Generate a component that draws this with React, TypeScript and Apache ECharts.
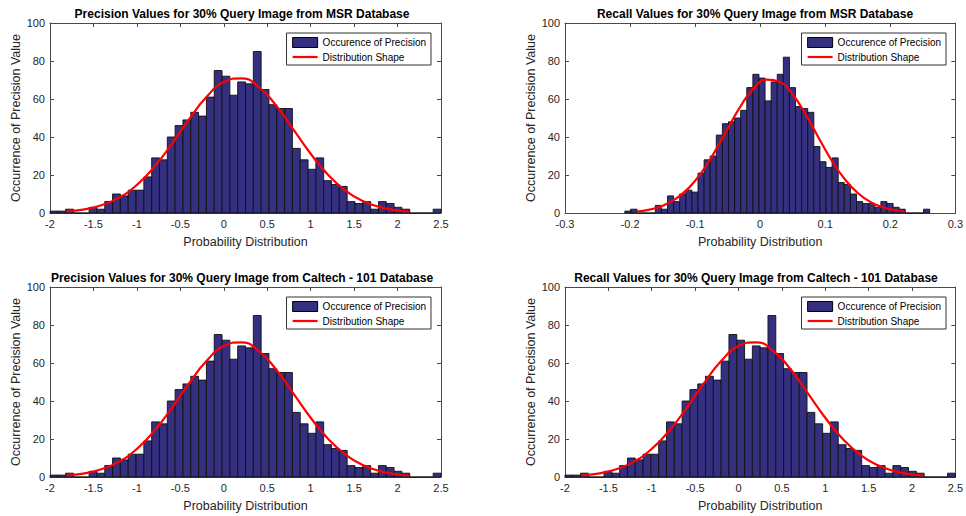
import React, { useEffect, useRef } from "react";
import * as echarts from "echarts";

// ---------- data ----------
const titles = [
  "Precision Values for 30% Query Image from MSR Database",
  "Recall Values for 30% Query Image from MSR Database",
  "Precision Values for 30% Query Image from Caltech - 101 Database",
  "Recall Values for 30% Query Image from Caltech - 101 Database",
];
const seriesNames = ["Occurence of Precision", "Distribution Shape"];
const xAxisName = "Probability Distribution";
const yAxisName = "Occurrence of Precision Value";

// histogram of the precision values (50 bins from -2 to 2.5)
const precBinStart = -2;
const precBinWidth = 0.09;
const precCounts = [
  1, 1, 2, 0, 0, 3, 2, 6, 10, 9, 12, 12, 19, 29, 28, 40, 46, 49, 53, 51,
  61, 75, 72, 62, 69, 68, 85, 65, 57, 55, 55, 34, 28, 23, 29, 17, 15, 14, 6, 5,
  6, 2, 6, 5, 3, 2, 0, 0, 0, 2,
];
// fitted distribution shape
const precCurveX = [-1.81, -1.6, -1.4, -1.2, -1.0, -0.8, -0.6, -0.4, -0.2, 0, 0.2, 0.4, 0.6, 0.8, 1.0, 1.2, 1.4, 1.6, 1.8, 2.0, 2.13];
const precCurveY = [0.8, 1.9, 4.2, 8.2, 14.8, 24.3, 36.2, 49.3, 61.0, 68.9, 70.9, 66.4, 56.7, 44.0, 31.2, 20.1, 11.8, 6.3, 3.1, 1.4, 0.8];

// histogram of the recall values (50 bins from -0.208 to 0.2605)
const recBinStart = -0.208;
const recBinWidth = 0.00937;
const recCounts = [
  1, 2, 0, 0, 0, 4, 2, 9, 6, 10, 12, 11, 21, 28, 30, 41, 47, 48, 50, 54,
  66, 73, 71, 59, 69, 73, 82, 66, 56, 55, 53, 35, 27, 24, 29, 16, 15, 10, 6, 5,
  5, 3, 6, 5, 3, 2, 0, 0, 0, 2,
];
const recCurveX = [-0.19, -0.17, -0.15, -0.13, -0.11, -0.09, -0.07, -0.05, -0.03, -0.01, 0.01, 0.03, 0.05, 0.07, 0.09, 0.11, 0.13, 0.15, 0.17, 0.19, 0.21, 0.222];
const recCurveY = [0.8, 1.8, 3.8, 7.4, 13.1, 21.4, 32.2, 44.4, 56.3, 65.6, 70.2, 69.0, 62.4, 51.8, 39.5, 27.6, 17.8, 10.5, 5.7, 2.9, 1.3, 0.8];

const precXTicks = { min: -2, max: 2.5, interval: 0.5 };
const recXTicks = { min: -0.3, max: 0.3, interval: 0.1 };
const yTicks = { min: 0, max: 100, interval: 20 };

// ---------- styling ----------
const FONT = "Liberation Sans, Arial, Helvetica, sans-serif";
const BAR = "#352f80";
const AX = "#4a4a4a";
const TXT = "#262626";

const panels = [
  { counts: precCounts, start: precBinStart, width: precBinWidth, cx: precCurveX, cy: precCurveY, ticks: precXTicks },
  { counts: recCounts, start: recBinStart, width: recBinWidth, cx: recCurveX, cy: recCurveY, ticks: recXTicks },
  { counts: precCounts, start: precBinStart, width: precBinWidth, cx: precCurveX, cy: precCurveY, ticks: precXTicks },
  { counts: precCounts, start: precBinStart, width: precBinWidth, cx: precCurveX, cy: precCurveY, ticks: precXTicks },
];

const gridPos = [
  { left: 50, top: 23 },
  { left: 565, top: 23 },
  { left: 50, top: 287 },
  { left: 565, top: 287 },
];
const GW = 391;
const GH = 190;
const titleCenters = [242, 755, 242, 756];

function fmt(v: number) {
  const r = Math.round(v * 10) / 10;
  return String(r === 0 ? 0 : r);
}

function buildOption() {
  const grid: any[] = [];
  const xAxis: any[] = [];
  const yAxis: any[] = [];
  const series: any[] = [];
  const title: any[] = [];
  const legend: any[] = [];

  panels.forEach((p, i) => {
    const g = gridPos[i];
    grid.push({ left: g.left, top: g.top, width: GW, height: GH, containLabel: false });

    const tickCommon = { show: true, inside: true, length: 4, lineStyle: { color: AX, width: 1 } };
    const lineCommon = { show: true, onZero: false, lineStyle: { color: AX, width: 1 } };

    xAxis.push({
      type: "value",
      gridIndex: i,
      position: "bottom",
      min: p.ticks.min,
      max: p.ticks.max,
      interval: p.ticks.interval,
      axisLine: lineCommon,
      axisTick: tickCommon,
      splitLine: { show: false },
      axisLabel: { color: TXT, fontSize: 11, margin: 5, fontFamily: FONT, formatter: fmt },
      name: xAxisName,
      nameLocation: "middle",
      nameGap: 22,
      nameTextStyle: { color: TXT, fontSize: 12.5, fontFamily: FONT },
    });
    xAxis.push({
      type: "value",
      gridIndex: i,
      position: "top",
      min: p.ticks.min,
      max: p.ticks.max,
      interval: p.ticks.interval,
      axisLine: lineCommon,
      axisTick: tickCommon,
      splitLine: { show: false },
      axisLabel: { show: false },
    });
    yAxis.push({
      type: "value",
      gridIndex: i,
      position: "left",
      min: yTicks.min,
      max: yTicks.max,
      interval: yTicks.interval,
      axisLine: lineCommon,
      axisTick: tickCommon,
      splitLine: { show: false },
      axisLabel: { color: TXT, fontSize: 11, margin: 5, fontFamily: FONT },
      name: yAxisName,
      nameLocation: "middle",
      nameGap: 27,
      nameTextStyle: { color: TXT, fontSize: 12.5, fontFamily: FONT },
    });
    yAxis.push({
      type: "value",
      gridIndex: i,
      position: "right",
      min: yTicks.min,
      max: yTicks.max,
      interval: yTicks.interval,
      axisLine: lineCommon,
      axisTick: tickCommon,
      splitLine: { show: false },
      axisLabel: { show: false },
    });

    const histData = p.counts.map((c, k) => [p.start + k * p.width, p.start + (k + 1) * p.width, c]);
    series.push({
      type: "custom",
      name: seriesNames[0],
      xAxisIndex: i * 2,
      yAxisIndex: i * 2,
      data: histData,
      encode: { x: [0, 1], y: 2 },
      itemStyle: { color: BAR, borderColor: "#000", borderWidth: 1 },
      renderItem: (params: any, api: any) => {
        const p0 = api.coord([api.value(0), 0]);
        const p1 = api.coord([api.value(1), api.value(2)]);
        return {
          type: "rect",
          shape: { x: p0[0], y: p1[1], width: p1[0] - p0[0], height: p0[1] - p1[1] },
          style: { fill: BAR, stroke: "#111", lineWidth: 0.9 },
        };
      },
      z: 2,
    });
    series.push({
      type: "line",
      name: seriesNames[1],
      xAxisIndex: i * 2,
      yAxisIndex: i * 2,
      data: p.cx.map((x, k) => [x, p.cy[k]]),
      smooth: true,
      symbol: "none",
      lineStyle: { color: "#ff0000", width: 2.2 },
      itemStyle: { color: "#ff0000" },
      z: 3,
    });

    title.push({
      text: titles[i],
      left: titleCenters[i],
      top: g.top - 15,
      textAlign: "center",
      padding: 0,
      textStyle: { fontSize: 12, fontWeight: "bold", color: "#000", fontFamily: FONT },
    });

    legend.push({
      orient: "vertical",
      right: 966 - (g.left + GW - 10),
      top: g.top + 10,
      itemWidth: 25,
      itemHeight: 10,
      itemGap: 4,
      padding: [4, 5, 3, 5],
      backgroundColor: "#fff",
      borderColor: "#333",
      borderWidth: 1,
      borderRadius: 0,
      selectedMode: false,
      textStyle: { fontSize: 10, color: "#000", fontFamily: FONT },
      data: [
        { name: seriesNames[0], icon: "rect", itemStyle: { color: BAR, borderColor: "#000", borderWidth: 1 } },
        {
          name: seriesNames[1],
          itemStyle: { color: "rgba(0,0,0,0)", borderWidth: 0, opacity: 0 },
          lineStyle: { color: "#ff0000", width: 2.2 },
        },
      ],
      z: 10,
    });
  });

  return {
    animation: false,
    backgroundColor: "#fff",
    textStyle: { fontFamily: FONT },
    title,
    legend,
    grid,
    xAxis,
    yAxis,
    series,
  };
}

export default function App() {
  const ref = useRef<HTMLDivElement>(null);
  useEffect(() => {
    document.body.style.margin = "0";
    if (!ref.current) return;
    const chart = echarts.init(ref.current, undefined, { renderer: "svg" });
    chart.setOption(buildOption() as any);
    return () => chart.dispose();
  }, []);
  return <div ref={ref} style={{ width: 966, height: 516 }} />;
}
